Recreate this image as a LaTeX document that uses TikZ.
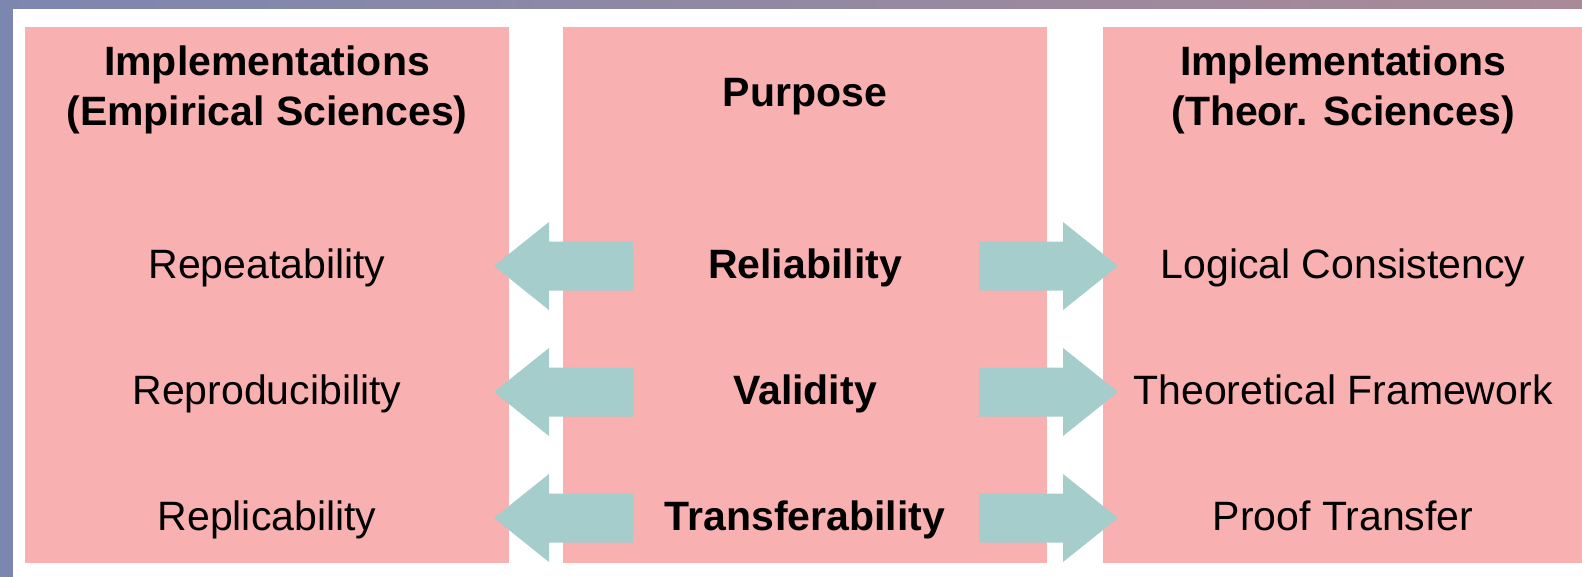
\documentclass[tikz,border=0pt]{standalone}
\usepackage{fontspec}
\setmainfont{Liberation Sans}
\definecolor{panelpink}{RGB}{249,176,176}
\definecolor{arrowteal}{RGB}{165,205,204}
\definecolor{bgblue}{RGB}{124,135,176}
\definecolor{bgmauve}{RGB}{170,138,150}
\tikzset{
  column/.style={fill=panelpink, draw=none, minimum height=536pt, inner sep=0pt},
  label/.style={font=\fontsize{41}{50}\selectfont, anchor=base, inner sep=0pt},
  headlabel/.style={label, font=\fontsize{41}{50}\selectfont\bfseries},
  blockarrow/.pic={
    \fill[arrowteal] (0,-24.5) -- (84,-24.5) -- (84,-44) -- (139,0)
      -- (84,44) -- (84,24.5) -- (0,24.5) -- cycle;
  }
}
\begin{document}
\begin{tikzpicture}[x=1pt, y=-1pt]
  \useasboundingbox (0,0) rectangle (1582,576);
  % backdrop and white sheet
  \shade[left color=bgblue, right color=bgmauve] (0,0) rectangle (1582,576);
  \fill[white] (12.5,9) rectangle (1590,584);

  % the three columns
  \node[column, minimum width=484pt] (emp)  at (267,295)   {};
  \node[column, minimum width=484pt] (purp) at (805,295)   {};
  \node[column, minimum width=487pt] (theo) at (1346.5,295) {};

  % column headings
  \node[headlabel] (empH1)  at (267,75)  {Implementations};
  \node[headlabel] (empH2)  at (267,125) {(Empirical Sciences)};
  \node[headlabel] (purpH)  at (805,106) {Purpose};
  \node[headlabel] (theoH1) at (1343,75)  {Implementations};
  \node[headlabel] (theoH2) at (1343,125) {(Theor. Sciences)};

  % rows
  \node[label]     (rep)  at (267,278)  {Repeatability};
  \node[headlabel] (rel)  at (805,278)  {Reliability};
  \node[label]     (log)  at (1343,278) {Logical Consistency};

  \node[label]     (repr) at (267,404)  {Reproducibility};
  \node[headlabel] (val)  at (805,404)  {Validity};
  \node[label]     (thf)  at (1343,404) {Theoretical Framework};

  \node[label]     (repl) at (267,530)  {Replicability};
  \node[headlabel] (tra)  at (805,530)  {Transferability};
  \node[label]     (prf)  at (1343,530) {Proof Transfer};

  % block arrows from the purpose column outwards
  \pic[xscale=-1] at (633,266) {blockarrow};
  \pic            at (979,266) {blockarrow};
  \pic[xscale=-1] at (633,392) {blockarrow};
  \pic            at (979,392) {blockarrow};
  \pic[xscale=-1] at (633,518) {blockarrow};
  \pic            at (979,518) {blockarrow};
\end{tikzpicture}
\end{document}
